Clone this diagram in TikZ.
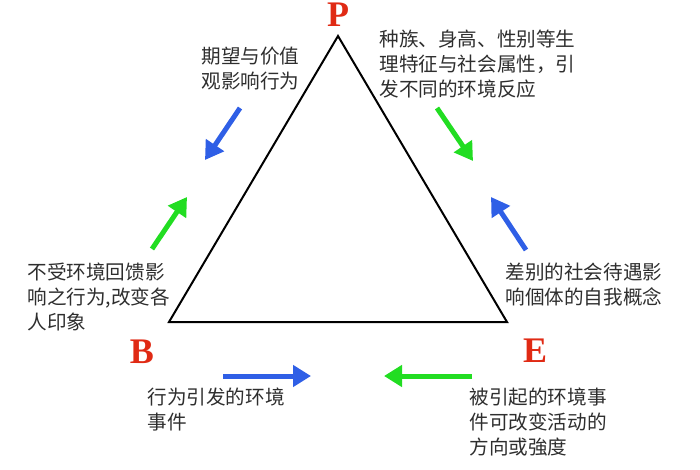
\documentclass[tikz,border=0pt]{standalone}
\usepackage{fontspec}
\setmainfont{Liberation Serif}
\newfontfamily\cjk{Noto Sans CJK SC}
\usetikzlibrary{arrows.meta}
\definecolor{arrblue}{HTML}{2F5FE6}
\definecolor{arrgreen}{HTML}{22DD22}
\definecolor{lblred}{HTML}{E02A14}
\definecolor{txtgray}{HTML}{2E2E2E}
\begin{document}
\begin{tikzpicture}[x=0.5pt,y=-0.5pt,
  lbl/.style={text=lblred, font=\fontsize{18}{18}\selectfont\bfseries, inner sep=0},
  txt/.style={text=txtgray, font=\cjk\fontsize{9.8}{12.5}\selectfont, align=left, anchor=west, inner sep=0},
  bar/.style={line width=2.5pt, -{Triangle[length=9pt,width=10.5pt]}},
  tri/.style={draw=black, line width=1pt, line join=miter}]
\useasboundingbox (0,0) rectangle (700,470);
% triangle
\coordinate (vp) at (338,36);
\coordinate (vb) at (169,322);
\coordinate (ve) at (507,322);
\draw[tri] (vp) -- (vb) -- (ve) -- cycle;
% labels
\node[lbl] (P) at (338,15) {P};
\node[lbl] (B) at (142,352) {B};
\node[lbl] (E) at (535,351) {E};
% arrows
\coordinate (a1s) at (240,108); \coordinate (a1e) at (205,160);
\coordinate (a2s) at (152,249); \coordinate (a2e) at (187,197);
\coordinate (a3s) at (437,108); \coordinate (a3e) at (473,161);
\coordinate (a4s) at (526,250); \coordinate (a4e) at (491,197);
\coordinate (a5s) at (223,376); \coordinate (a5e) at (311,376);
\coordinate (a6s) at (472,376); \coordinate (a6e) at (384,376);
\draw[bar, arrblue] (a1s) -- (a1e);
\draw[bar, arrgreen] (a2s) -- (a2e);
\draw[bar, arrgreen] (a3s) -- (a3e);
\draw[bar, arrblue] (a4s) -- (a4e);
\draw[bar, arrblue] (a5s) -- (a5e);
\draw[bar, arrgreen] (a6s) -- (a6e);
% texts
\node[txt] (t1) at (201,69) {期望与价值\\观影响行为};
\node[txt] (t2) at (379,64) {种族、身高、性别等生\\理特征与社会属性，引\\发不同的环境反应};
\node[txt] (t3) at (27,297) {不受环境回馈影\\响之行为,改变各\\人印象};
\node[txt] (t4) at (147,410) {行为引发的环境\\事件};
\node[txt] (t5) at (505,285) {差别的社会待遇影\\响個体的自我概念};
\node[txt] (t6) at (469,422) {被引起的环境事\\件可改变活动的\\方向或強度};
\end{tikzpicture}
\end{document}
